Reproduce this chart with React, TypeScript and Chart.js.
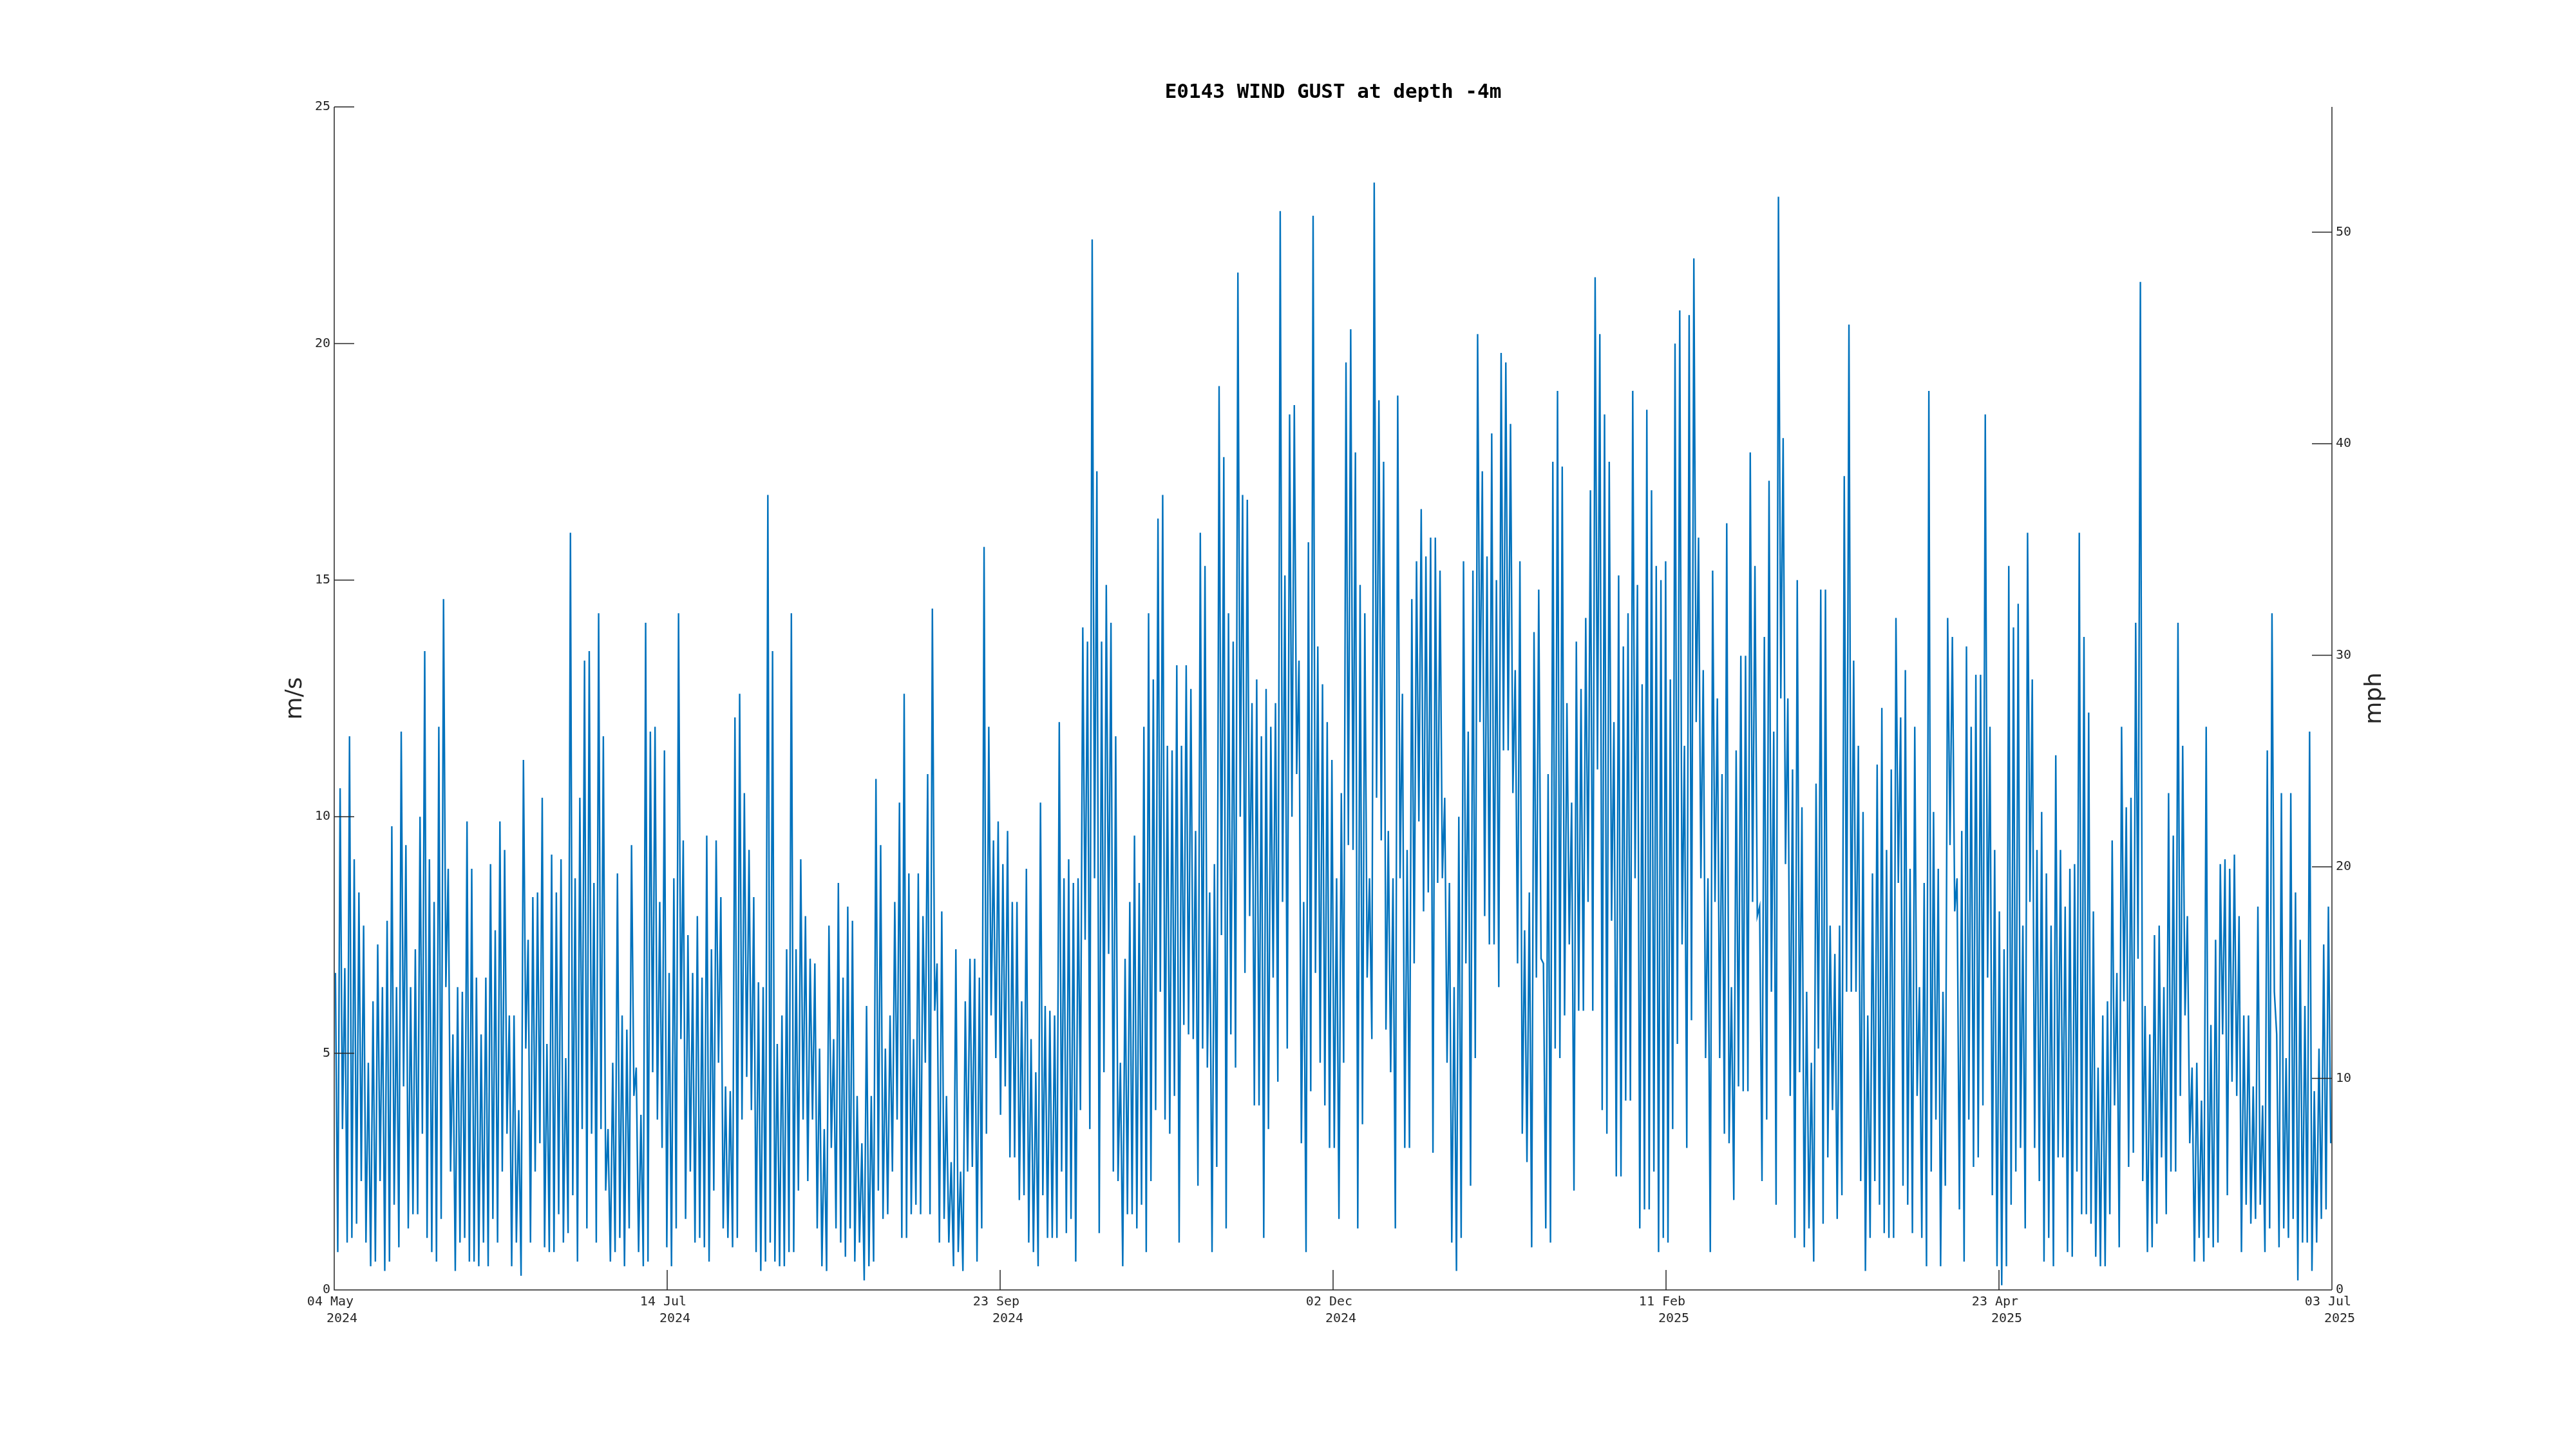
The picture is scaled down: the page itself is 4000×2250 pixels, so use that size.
import React, { useEffect, useRef } from 'react';
import { Chart, registerables } from 'chart.js';

Chart.register(...registerables);

// ---------- text ----------
const TITLE = 'E0143 WIND GUST at depth -4m';
const LEFT_LABEL = 'm/s';
const RIGHT_LABEL = 'mph';

// x axis: days since 04 May 2024, ticks equally spaced over the 425-day span
const SPAN_DAYS = 425;
const xTickLabels: string[][] = [
  ['04 May ', '  2024'],
  ['14 Jul ', '  2024'],
  ['23 Sep ', '  2024'],
  ['02 Dec ', '  2024'],
  ['11 Feb ', '  2025'],
  ['23 Apr ', '  2025'],
  ['03 Jul ', '  2025'],
];
const leftTicks = [0, 5, 10, 15, 20, 25];
const rightTicks = [0, 10, 20, 30, 40, 50];
const MS_TO_MPH = 2.23694;
const Y_MAX = 25;

// ---------- data: daily gust peak / trough (m/s) ----------
// 04 May - 13 Jul 2024
const peaksMayJul = [
  6.7, 10.6, 6.8, 11.7, 9.1, 8.4, 7.7, 4.8, 6.1, 7.3,
  6.4, 7.8, 9.8, 6.4, 11.8, 9.4, 6.4, 7.2, 10.0, 13.5,
  9.1, 8.2, 11.9, 14.6, 8.9, 5.4, 6.4, 6.3, 9.9, 8.9,
  6.6, 5.4, 6.6, 9.0, 7.6, 9.9, 9.3, 5.8, 5.8, 3.8,
  11.2, 7.4, 8.3, 8.4, 10.4, 5.2, 9.2, 8.4, 9.1, 4.9,
  16.0, 8.7, 10.4, 13.3, 13.5, 8.6, 14.3, 11.7, 3.4, 4.8,
  8.8, 5.8, 5.5, 9.4, 4.7, 3.7, 14.1, 11.8, 11.9, 8.2,
  11.4,
];
const lowsMayJul = [
  0.8, 3.4, 1.0, 1.1, 1.4, 2.3, 1.0, 0.5, 0.6, 2.3,
  0.4, 0.6, 1.8, 0.9, 4.3, 1.3, 1.6, 1.6, 3.3, 1.1,
  0.8, 0.6, 1.5, 6.4, 2.5, 0.4, 1.0, 1.1, 0.6, 0.6,
  0.5, 1.0, 0.5, 1.5, 1.0, 2.5, 3.3, 0.5, 1.0, 0.3,
  5.1, 1.0, 2.5, 3.1, 0.9, 0.8, 0.8, 1.6, 1.0, 1.2,
  2.0, 0.6, 3.4, 1.3, 3.3, 1.0, 3.4, 2.1, 0.6, 0.8,
  1.1, 0.5, 1.3, 4.1, 0.8, 0.5, 0.6, 4.6, 3.6, 3.0,
  0.9,
];
// 14 Jul - 22 Sep 2024
const peaksJulSep = [
  6.7, 8.7, 14.3, 9.5, 7.5, 6.7, 7.9, 6.6, 9.6, 7.2,
  9.5, 8.3, 4.3, 4.2, 12.1, 12.6, 10.5, 9.3, 8.3, 6.5,
  6.4, 16.8, 13.5, 5.2, 5.8, 7.2, 14.3, 7.2, 9.1, 7.9,
  7.0, 6.9, 5.1, 3.4, 7.7, 5.3, 8.6, 6.6, 8.1, 7.8,
  4.1, 3.1, 6.0, 4.1, 10.8, 9.4, 5.1, 5.8, 8.2, 10.3,
  12.6, 8.8, 5.3, 8.8, 7.9, 10.9, 14.4, 6.9, 8.0, 4.1,
  2.7, 7.2, 2.5, 6.1, 7.0, 7.0, 6.6, 15.7, 11.9, 9.5,
  9.9,
];
const lowsJulSep = [
  0.5, 1.3, 5.3, 1.5, 2.5, 1.0, 1.1, 0.9, 0.6, 2.1,
  4.8, 1.3, 1.1, 0.9, 1.1, 3.6, 4.5, 3.8, 0.8, 0.4,
  0.6, 1.0, 0.6, 0.5, 0.5, 0.8, 0.8, 2.1, 3.6, 2.3,
  3.6, 1.3, 0.5, 0.4, 3.0, 1.3, 1.0, 0.7, 1.3, 0.6,
  1.0, 0.2, 0.5, 0.6, 2.1, 1.5, 1.6, 2.5, 3.6, 1.1,
  1.1, 1.6, 1.8, 1.6, 4.8, 1.6, 5.9, 1.0, 1.5, 1.0,
  0.5, 0.8, 0.4, 2.5, 2.6, 0.6, 1.3, 3.3, 5.8, 4.9,
  3.7,
];
// 23 Sep - 01 Dec 2024
const peaksSepDec = [
  9.0, 9.7, 8.2, 8.2, 6.1, 8.9, 5.3, 4.6, 10.3, 6.0,
  5.9, 5.8, 12.0, 8.7, 9.1, 8.6, 8.7, 14.0, 13.7, 22.2,
  17.3, 13.7, 14.9, 14.1, 11.7, 4.8, 7.0, 8.2, 9.6, 8.6,
  11.9, 14.3, 12.9, 16.3, 16.8, 11.5, 11.4, 13.2, 11.5, 13.2,
  12.7, 9.7, 16.0, 15.3, 8.4, 9.0, 19.1, 17.6, 14.3, 13.7,
  21.5, 16.8, 16.7, 12.4, 12.9, 11.7, 12.7, 11.9, 12.4, 22.8,
  15.1, 18.5, 18.7, 13.3, 8.2, 15.8, 22.7, 13.6, 12.8, 12.0,
];
const lowsSepDec = [
  4.3, 2.8, 2.8, 1.9, 2.0, 1.0, 0.8, 0.5, 2.0, 1.1,
  1.1, 1.1, 2.5, 1.2, 1.5, 0.6, 3.8, 7.4, 3.4, 8.7,
  1.2, 4.6, 7.1, 2.5, 2.3, 0.5, 1.6, 1.6, 1.3, 1.8,
  0.8, 2.3, 3.8, 6.3, 3.6, 3.3, 4.1, 1.0, 5.6, 5.4,
  5.3, 2.2, 5.1, 4.7, 0.8, 2.6, 7.5, 1.3, 5.4, 4.7,
  10.0, 6.7, 7.9, 3.9, 3.9, 1.1, 3.4, 6.6, 4.4, 8.2,
  5.1, 10.0, 10.9, 3.1, 0.8, 4.2, 6.7, 4.8, 3.9, 3.0,
];
// 02 Dec 2024 - 10 Feb 2025
const peaksDecFeb = [
  11.2, 8.7, 10.5, 19.6, 20.3, 17.7, 14.9, 14.3, 8.7, 23.4,
  18.8, 17.5, 9.7, 8.7, 18.9, 12.6, 9.3, 14.6, 15.4, 16.5,
  15.5, 15.9, 15.9, 15.2, 10.4, 8.6, 6.4, 10.0, 15.4, 11.8,
  15.2, 20.2, 17.3, 15.5, 18.1, 15.0, 19.8, 19.6, 18.3, 13.1,
  15.4, 7.6, 8.4, 13.9, 14.8, 6.9, 10.9, 17.5, 19.0, 17.4,
  12.4, 10.3, 13.7, 12.7, 14.2, 16.9, 21.4, 20.2, 18.5, 17.5,
  12.0, 15.1, 13.6, 14.3, 19.0, 14.9, 12.8, 18.6, 16.9, 15.3,
  15.0,
];
const lowsDecFeb = [
  3.0, 1.5, 4.8, 9.4, 9.3, 1.3, 3.5, 6.6, 5.3, 10.4,
  9.5, 5.5, 4.6, 1.3, 8.7, 3.0, 3.0, 6.9, 9.9, 8.0,
  8.4, 2.9, 8.6, 8.7, 4.8, 1.0, 0.4, 1.1, 6.9, 2.2,
  4.9, 12.0, 7.9, 7.3, 7.3, 6.4, 11.4, 11.4, 10.5, 6.9,
  3.3, 2.7, 0.9, 6.6, 7.0, 1.3, 1.0, 5.1, 4.9, 5.8,
  7.3, 2.1, 5.9, 5.9, 8.2, 5.9, 11.0, 3.8, 3.3, 7.8,
  2.4, 2.4, 4.0, 4.0, 8.7, 1.3, 1.7, 1.7, 2.5, 0.8,
  1.1,
];
// 11 Feb - 22 Apr 2025
const peaksFebApr = [
  15.4, 12.9, 20.0, 20.7, 11.5, 20.6, 21.8, 15.9, 13.1, 8.7,
  15.2, 12.5, 10.9, 16.2, 6.4, 11.4, 13.4, 13.4, 17.7, 15.3,
  8.1, 13.8, 17.1, 11.8, 23.1, 18.0, 12.5, 11.0, 15.0, 10.2,
  6.3, 4.8, 10.7, 14.8, 14.8, 7.7, 7.1, 7.7, 17.2, 20.4,
  13.3, 11.5, 10.1, 5.8, 8.8, 11.1, 12.3, 9.3, 11.0, 14.2,
  12.1, 13.1, 8.9, 11.9, 6.4, 8.6, 19.0, 10.1, 8.9, 6.3,
  14.2, 13.8, 8.7, 9.7, 13.6, 11.9, 13.0, 13.0, 18.5, 11.9,
  9.3,
];
const lowsFebApr = [
  1.0, 3.4, 5.2, 7.3, 3.0, 5.7, 12.0, 8.7, 4.9, 0.8,
  8.2, 4.9, 3.3, 3.1, 1.9, 4.3, 4.2, 4.2, 8.2, 7.9,
  2.3, 3.6, 6.3, 1.8, 12.5, 9.0, 4.1, 1.1, 4.6, 0.9,
  1.3, 0.6, 5.1, 1.4, 2.8, 3.8, 1.5, 2.0, 6.3, 6.3,
  6.3, 2.3, 0.4, 1.1, 2.3, 1.8, 1.2, 1.1, 1.1, 8.6,
  2.2, 1.8, 1.2, 4.1, 1.1, 0.5, 2.5, 3.6, 0.5, 2.2,
  9.4, 8.0, 1.7, 0.6, 3.6, 2.6, 2.8, 3.9, 6.6, 2.0,
  0.5,
];
// 23 Apr - 02 Jul 2025
const peaksAprJul = [
  8.0, 7.2, 15.3, 14.0, 14.5, 7.7, 16.0, 12.9, 9.3, 10.1,
  8.8, 7.7, 11.3, 9.3, 8.1, 8.9, 9.0, 16.0, 13.8, 12.2,
  8.0, 4.7, 5.8, 6.1, 9.5, 6.7, 11.9, 10.2, 10.4, 14.1,
  21.3, 6.0, 5.4, 7.5, 7.7, 6.4, 10.5, 9.6, 14.1, 11.5,
  7.9, 4.7, 4.8, 4.0, 11.9, 5.6, 7.4, 9.0, 9.1, 8.9,
  9.2, 7.9, 5.8, 5.8, 4.3, 8.1, 3.9, 11.4, 14.3, 5.4,
  10.5, 4.9, 10.5, 8.4, 7.4, 6.0, 11.8, 4.2, 5.1, 7.3,
  8.1,
];
const lowsAprJul = [
  0.1, 0.5, 1.8, 2.5, 3.0, 1.3, 8.2, 3.0, 2.3, 0.6,
  1.1, 0.5, 2.8, 2.8, 0.8, 0.7, 2.5, 1.6, 1.6, 1.4,
  0.7, 0.5, 0.5, 1.6, 3.9, 0.9, 6.1, 2.6, 2.9, 7.0,
  2.3, 0.8, 0.9, 1.4, 2.8, 1.6, 2.5, 2.5, 4.1, 5.8,
  3.1, 0.6, 1.1, 0.6, 1.1, 0.9, 1.0, 5.4, 2.0, 4.4,
  4.1, 0.8, 1.8, 1.4, 1.5, 1.8, 0.8, 1.3, 6.3, 0.9,
  1.3, 1.1, 1.5, 0.2, 1.0, 1.0, 0.4, 1.0, 1.5, 1.7,
  3.1,
];

const segments: [number[], number[]][] = [
  [peaksMayJul, lowsMayJul],
  [peaksJulSep, lowsJulSep],
  [peaksSepDec, lowsSepDec],
  [peaksDecFeb, lowsDecFeb],
  [peaksFebApr, lowsFebApr],
  [peaksAprJul, lowsAprJul],
];

function buildPoints() {
  const pts: { x: number; y: number }[] = [];
  let day = 0;
  for (const [peaks, lows] of segments) {
    for (let i = 0; i < peaks.length; i++) {
      pts.push({ x: day + 0.25, y: peaks[i] });
      pts.push({ x: day + 0.75, y: lows[i] });
      day++;
    }
  }
  return pts;
}

const AXIS_COLOR = '#262626';
const MONO = '"DejaVu Sans Mono", monospace';
const SANS = '"DejaVu Sans", sans-serif';

const matlabAxes = {
  id: 'matlabAxes',
  afterDatasetsDraw(chart: any) {
    const { ctx, chartArea: a, scales } = chart;
    const tick = 31;
    ctx.save();
    ctx.strokeStyle = AXIS_COLOR;
    ctx.lineWidth = 1.5;
    ctx.beginPath();
    ctx.moveTo(a.left, a.top);
    ctx.lineTo(a.left, a.bottom);
    ctx.lineTo(a.right, a.bottom);
    ctx.moveTo(a.right, a.top);
    ctx.lineTo(a.right, a.bottom);
    for (const t of scales.y.ticks) {
      const py = scales.y.getPixelForValue(t.value);
      ctx.moveTo(a.left, py);
      ctx.lineTo(a.left + tick, py);
    }
    for (const t of scales.y2.ticks) {
      const py = scales.y2.getPixelForValue(t.value);
      ctx.moveTo(a.right, py);
      ctx.lineTo(a.right - tick, py);
    }
    for (const t of scales.x.ticks) {
      const px = scales.x.getPixelForValue(t.value);
      ctx.moveTo(px, a.bottom);
      ctx.lineTo(px, a.bottom - tick);
    }
    ctx.stroke();

    // title
    ctx.fillStyle = '#000000';
    ctx.font = `bold 31px ${MONO}`;
    ctx.textAlign = 'center';
    ctx.textBaseline = 'middle';
    ctx.fillText(TITLE, (a.left + a.right) / 2, 144);

    // axis labels
    ctx.fillStyle = AXIS_COLOR;
    ctx.font = `36px ${SANS}`;
    const cy = (a.top + a.bottom) / 2;
    ctx.save();
    ctx.translate(a.left - 60, cy);
    ctx.rotate(-Math.PI / 2);
    ctx.fillText(LEFT_LABEL, 0, 0);
    ctx.restore();
    ctx.save();
    ctx.translate(a.right + 67, cy);
    ctx.rotate(-Math.PI / 2);
    ctx.fillText(RIGHT_LABEL, 0, 0);
    ctx.restore();
    ctx.restore();
  },
};

export default function App() {
  const canvasRef = useRef<HTMLCanvasElement | null>(null);

  useEffect(() => {
    const canvas = canvasRef.current;
    if (!canvas) return;
    const tickFont = { family: MONO, size: 20, lineHeight: 1.3 };
    const chart = new Chart(canvas, {
      type: 'line',
      data: {
        datasets: [
          {
            data: buildPoints(),
            borderColor: '#0072BD',
            borderWidth: 2.4,
            pointRadius: 0,
            tension: 0,
            fill: false,
            xAxisID: 'x',
            yAxisID: 'y',
          },
        ],
      },
      options: {
        responsive: false,
        animation: false,
        devicePixelRatio: 1,
        parsing: false,
        normalized: true,
        events: [],
        layout: { padding: { top: 166, left: 0, right: 0, bottom: 0 } },
        plugins: {
          legend: { display: false },
          tooltip: { enabled: false },
          title: { display: false },
        },
        scales: {
          x: {
            type: 'linear',
            position: 'bottom',
            min: 0,
            max: SPAN_DAYS,
            grid: { display: false, drawTicks: false },
            border: { display: false },
            afterBuildTicks: (scale: any) => {
              scale.ticks = xTickLabels.map((_, i) => ({ value: (i * SPAN_DAYS) / (xTickLabels.length - 1) }));
            },
            afterFit: (scale: any) => {
              scale.height = 247;
            },
            ticks: {
              autoSkip: false,
              maxRotation: 0,
              minRotation: 0,
              padding: 6,
              color: AXIS_COLOR,
              font: tickFont,
              callback: (_v: any, i: number) => xTickLabels[i],
            },
          },
          y: {
            type: 'linear',
            position: 'left',
            min: 0,
            max: Y_MAX,
            grid: { display: false, drawTicks: false },
            border: { display: false },
            afterBuildTicks: (scale: any) => {
              scale.ticks = leftTicks.map((v) => ({ value: v }));
            },
            afterFit: (scale: any) => {
              scale.width = 519;
            },
            ticks: { padding: 6, color: AXIS_COLOR, font: tickFont, callback: (v: any) => String(v) },
          },
          y2: {
            type: 'linear',
            position: 'right',
            min: 0,
            max: Y_MAX * MS_TO_MPH,
            grid: { display: false, drawTicks: false },
            border: { display: false },
            afterBuildTicks: (scale: any) => {
              scale.ticks = rightTicks.map((v) => ({ value: v }));
            },
            afterFit: (scale: any) => {
              scale.width = 379;
            },
            ticks: { padding: 6, color: AXIS_COLOR, font: tickFont, callback: (v: any) => String(v) },
          },
        },
      },
      plugins: [matlabAxes],
    } as any);
    return () => chart.destroy();
  }, []);

  return (
    <div style={{ position: 'absolute', left: 0, top: 0, width: 4000, height: 2250, background: '#ffffff' }}>
      <canvas ref={canvasRef} width={4000} height={2250} style={{ width: 4000, height: 2250, display: 'block' }} />
    </div>
  );
}
